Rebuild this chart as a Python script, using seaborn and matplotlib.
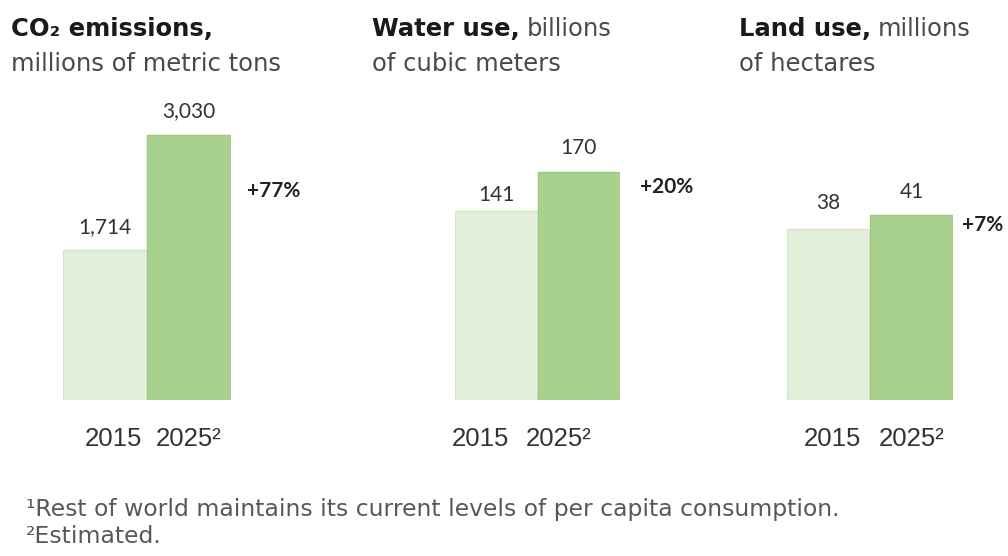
import matplotlib
matplotlib.use("Agg")
import matplotlib.pyplot as plt
import matplotlib.transforms as mtransforms
import seaborn as sns

# ---- data -------------------------------------------------------------
years = ["2015", "2025²"]
co2_values = [1714, 3030]
water_values = [141, 170]
land_values = [38, 41]
change_labels = ["+77%", "+20%", "+7%"]

titles_bold = ["CO₂ emissions,", "Water use,", "Land use,"]
titles_rest = ["", "billions", "millions"]
titles_line2 = ["millions of metric tons", "of cubic meters", "of hectares"]
footnotes = [
    "¹Rest of world maintains its current levels of per capita consumption.",
    "²Estimated.",
]

# ---- style ------------------------------------------------------------
sns.set_theme(style="white")
plt.rcParams["font.family"] = ["DejaVu Sans"]

LIGHT = "#e2efda"
DARK = "#a9d18e"
EDGE_LIGHT = "#d2e5c5"
EDGE_DARK = "#9dc881"
NUM_FONT = ["Lato", "DejaVu Sans"]
AX_FONT = ["Liberation Sans", "DejaVu Sans"]

W, H = 1008, 556
fig = plt.figure(figsize=(W / 100, H / 100), dpi=100)
renderer = fig.canvas.get_renderer()
PX = 72 / 100  # points per pixel

# panel layout in pixels
panels = [
    dict(values=co2_values, left=63, width=168, bar_px=265,
         gaps=(17, 18), pct=(16, -62), tick_dx=(8, 0)),
    dict(values=water_values, left=455, width=165, bar_px=228,
         gaps=(10, 18), pct=(20, -21), tick_dx=(-16, -20)),
    dict(values=land_values, left=787, width=166, bar_px=185,
         gaps=(20, 17), pct=(9, -16), tick_dx=(4, 0)),
]
base_y = 400
ax_h = 300
title_x = [11, 372, 739]

for i, p in enumerate(panels):
    ax = fig.add_axes([p["left"] / W, (H - base_y) / H, p["width"] / W, ax_h / H])
    vals = p["values"]
    sns.barplot(x=years, y=vals, hue=years, palette=[LIGHT, DARK], width=1.0,
                legend=False, ax=ax, saturation=1)
    for bar, ec in zip(ax.patches, [EDGE_LIGHT, EDGE_DARK]):
        bar.set_edgecolor(ec)
        bar.set_linewidth(1.0)
    ax.set_xlim(-0.5, 1.5)
    ax.set_ylim(0, max(vals) * ax_h / p["bar_px"])
    sns.despine(ax=ax, left=True, bottom=True)
    ax.set_yticks([])
    ax.set_ylabel("")
    ax.set_xlabel("")
    ax.tick_params(axis="x", length=0, pad=27 * PX, labelsize=18.5,
                   labelcolor="#333333")
    for lbl, dx in zip(ax.get_xticklabels(), p["tick_dx"]):
        lbl.set_family(AX_FONT)
        lbl.set_verticalalignment("baseline")
        shift = mtransforms.ScaledTranslation(dx / 100, -19 / 100, fig.dpi_scale_trans)
        lbl.set_transform(lbl.get_transform() + shift)

    # value labels above bars
    for j, v in enumerate(vals):
        ax.annotate(f"{v:,}", xy=(j, v), xytext=(0, p["gaps"][j] * PX),
                    textcoords="offset points", ha="center", va="baseline",
                    fontsize=15, color="#333333", family=NUM_FONT,
                    annotation_clip=False)
    # change label to the right of the 2025 bar
    ax.annotate(change_labels[i], xy=(1.5, vals[1]),
                xytext=(p["pct"][0] * PX, p["pct"][1] * PX),
                textcoords="offset points", ha="left", va="baseline", fontsize=15,
                fontweight="bold", color="#222222", family=NUM_FONT,
                annotation_clip=False)

    # two-line header: bold lead, regular remainder
    tb = fig.text(title_x[i] / W, 1 - 36 / H, titles_bold[i], fontsize=17.5,
                  fontweight="bold", color="#1a1a1a", va="baseline", ha="left")
    if titles_rest[i]:
        bb = tb.get_window_extent(renderer=renderer)
        fig.text((bb.x1 + 7) / W, 1 - 36 / H, titles_rest[i], fontsize=17.5,
                 color="#4a4a4a", va="baseline", ha="left")
    fig.text(title_x[i] / W, 1 - 71 / H, titles_line2[i], fontsize=17.5,
             color="#4a4a4a", va="baseline", ha="left")

fig.text(26 / W, 1 - 516 / H, footnotes[0], fontsize=16.9, color="#585858",
         va="baseline", ha="left")
fig.text(26 / W, 1 - 543 / H, footnotes[1], fontsize=16.9, color="#585858",
         va="baseline", ha="left")

fig.savefig("out.png", dpi=100, facecolor="white")
